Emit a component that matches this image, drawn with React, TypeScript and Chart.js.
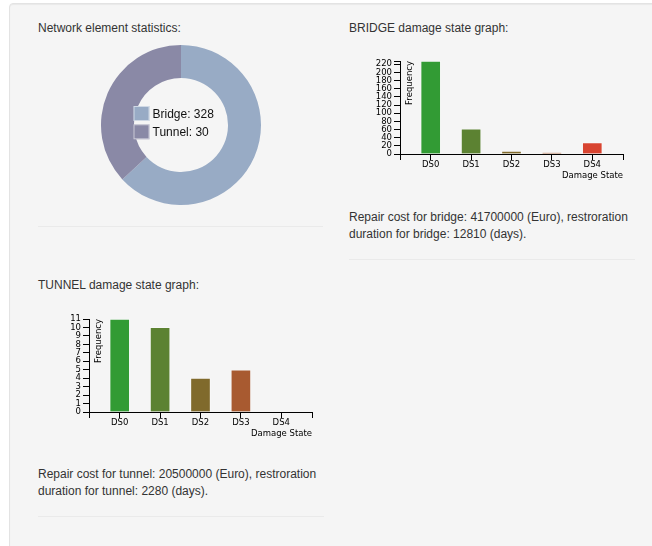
import React, { useEffect, useRef } from 'react';
import { Chart, registerables } from 'chart.js';

Chart.register(...registerables);

// ---- data ----
const elementLabels = ['Bridge', 'Tunnel'];
const elementCounts = [328, 30];
const elementSliceShares = [63.1, 36.9]; // slice sizes as drawn in the donut
const elementColors = ['#98abc5', '#8a89a6'];

const damageStates = ['DS0', 'DS1', 'DS2', 'DS3', 'DS4'];
const damageColors = ['#329b34', '#5c8232', '#806a2c', '#a85a30', '#d84430'];
const bridgeFrequency = [228, 62, 7, 3, 28];
const tunnelFrequency = [11, 10, 4, 5, 0];
const bridgeTicks = [0, 20, 40, 60, 80, 100, 120, 140, 160, 180, 200, 220];
const tunnelTicks = [0, 1, 2, 3, 4, 5, 6, 7, 8, 9, 10, 11];

const AXIS_FONT = '"DejaVu Sans", sans-serif';
const TEXT_FONT = '"Liberation Sans", Arial, Helvetica, sans-serif';

function DonutChart() {
  const ref = useRef<HTMLCanvasElement>(null);
  useEffect(() => {
    const centerLegend = {
      id: 'centerLegend',
      afterDraw(chart: any) {
        const { ctx, chartArea } = chart;
        const cx = (chartArea.left + chartArea.right) / 2;
        const cy = (chartArea.top + chartArea.bottom) / 2;
        ctx.save();
        (chart.data.labels as string[]).forEach((label, i) => {
          const x = cx - 47.5;
          const y = cy - 19 + i * 18.3;
          ctx.fillStyle = elementColors[i];
          ctx.fillRect(x, y, 16, 15);
          ctx.strokeStyle = 'rgba(255,255,255,0.55)';
          ctx.lineWidth = 1;
          ctx.strokeRect(x + 0.5, y + 0.5, 15, 14);
          ctx.fillStyle = '#111';
          ctx.font = `12px ${TEXT_FONT}`;
          ctx.textAlign = 'left';
          ctx.textBaseline = 'alphabetic';
          ctx.fillText(`${label}: ${elementCounts[i]}`, x + 19, y + 11.7);
        });
        ctx.restore();
      },
    };
    const chart = new Chart(ref.current as HTMLCanvasElement, {
      type: 'doughnut',
      data: {
        labels: elementLabels,
        datasets: [
          {
            data: elementSliceShares,
            backgroundColor: elementColors,
            borderWidth: 0,
            hoverOffset: 0,
          },
        ],
      },
      options: {
        animation: false,
        responsive: false,
        events: [],
        cutout: '58.75%',
        layout: { padding: 0 },
        plugins: { legend: { display: false }, tooltip: { enabled: false } },
      } as any,
      plugins: [centerLegend],
    });
    return () => chart.destroy();
  }, []);
  return (
    <canvas
      ref={ref}
      width={160}
      height={160}
      style={{ position: 'absolute', left: 101, top: 45, width: 160, height: 160 }}
    />
  );
}

function DamageChart({ values, ticks, left, top }: { values: number[]; ticks: number[]; left: number; top: number }) {
  const ref = useRef<HTMLCanvasElement>(null);
  useEffect(() => {
    const yMax = Math.max(...values);
    const axisLabels = {
      id: 'axisLabels',
      afterDraw(chart: any) {
        const { ctx, chartArea } = chart;
        ctx.save();
        ctx.fillStyle = '#000';
        ctx.font = `8.5px ${AXIS_FONT}`;
        ctx.textAlign = 'right';
        ctx.textBaseline = 'middle';
        ctx.fillText('Damage State', chartArea.right, chartArea.bottom + 21.5);
        ctx.translate(chartArea.left + 6, chartArea.top);
        ctx.rotate(-Math.PI / 2);
        ctx.textAlign = 'right';
        ctx.textBaseline = 'top';
        ctx.fillText('Frequency', 0, 0);
        ctx.restore();
      },
    };
    const tickFont = { family: AXIS_FONT, size: 8.5 };
    const chart = new Chart(ref.current as HTMLCanvasElement, {
      type: 'bar',
      data: {
        datasets: [
          {
            data: values.map((v, i) => ({ x: i, y: v })),
            backgroundColor: damageColors,
            borderColor: 'rgba(255,255,255,0.35)',
            borderWidth: 1,
            barThickness: 20,
          },
        ],
      },
      options: {
        animation: false,
        responsive: false,
        events: [],
        layout: { padding: { left: 0, top: 21, right: 17, bottom: 0 } },
        plugins: { legend: { display: false }, tooltip: { enabled: false } },
        scales: {
          x: {
            type: 'linear',
            min: -0.76,
            max: damageStates.length - 1 + 0.76,
            offset: false,
            afterFit: (s: any) => {
              s.height = 36;
            },
            afterBuildTicks: (s: any) => {
              s.ticks = [s.min, ...damageStates.map((_, i) => i), s.max].map((v) => ({ value: v }));
            },
            grid: { offset: false, drawOnChartArea: false, drawTicks: true, tickLength: 6, color: '#000', lineWidth: 1 },
            border: { display: true, color: '#000', width: 1 },
            ticks: {
              autoSkip: false,
              maxRotation: 0,
              minRotation: 0,
              padding: 0,
              color: '#000',
              font: tickFont,
              callback: (v: any) => (Number.isInteger(v) && damageStates[v] !== undefined ? damageStates[v] : ''),
            },
          },
          y: {
            type: 'linear',
            min: 0,
            max: yMax,
            afterFit: (s: any) => {
              s.width = 60;
            },
            afterBuildTicks: (s: any) => {
              const vals = ticks.includes(yMax) ? ticks : [...ticks, yMax];
              s.ticks = vals.map((v) => ({ value: v }));
            },
            grid: { offset: false, drawOnChartArea: false, drawTicks: true, tickLength: 6, color: '#000', lineWidth: 1 },
            border: { display: true, color: '#000', width: 1 },
            ticks: {
              autoSkip: false,
              padding: 2,
              color: '#000',
              font: tickFont,
              callback: (v: any) => (ticks.includes(v) ? String(v) : ''),
            },
          },
        },
      } as any,
      plugins: [axisLabels],
    });
    return () => chart.destroy();
  }, []);
  return (
    <canvas
      ref={ref}
      width={300}
      height={150}
      style={{ position: 'absolute', left, top, width: 300, height: 150 }}
    />
  );
}

const textStyle: React.CSSProperties = {
  position: 'absolute',
  fontFamily: TEXT_FONT,
  fontSize: 12,
  lineHeight: '17px',
  color: '#333',
  whiteSpace: 'nowrap',
  margin: 0,
};

const dividerStyle: React.CSSProperties = {
  position: 'absolute',
  height: 0,
  borderTop: '1px solid #eaeaea',
};

export default function App() {
  return (
    <div style={{ position: 'absolute', left: 0, top: 0, width: 652, height: 546, overflow: 'hidden', background: '#fff' }}>
      <div
        style={{
          position: 'absolute',
          left: 9,
          top: 3,
          width: 720,
          height: 620,
          background: '#f5f5f5',
          border: '1px solid #e3e3e3',
          borderRadius: 4,
          boxShadow: 'inset 0 1px 1px rgba(0,0,0,0.05)',
          boxSizing: 'border-box',
        }}
      />
      <div style={{ ...textStyle, left: 38, top: 20 }}>Network element statistics:</div>
      <DonutChart />
      <div style={{ ...dividerStyle, left: 38, top: 226, width: 285 }} />

      <div style={{ ...textStyle, left: 349, top: 20 }}>BRIDGE damage state graph:</div>
      <DamageChart values={bridgeFrequency} ticks={bridgeTicks} left={340} top={40} />
      <div style={{ ...textStyle, left: 349, top: 208.5 }}>
        Repair cost for bridge: 41700000 (Euro), restroration
        <br />
        duration for bridge: 12810 (days).
      </div>
      <div style={{ ...dividerStyle, left: 349, top: 259, width: 286 }} />

      <div style={{ ...textStyle, left: 38, top: 277 }}>TUNNEL damage state graph:</div>
      <DamageChart values={tunnelFrequency} ticks={tunnelTicks} left={29} top={298} />
      <div style={{ ...textStyle, left: 38, top: 466.3 }}>
        Repair cost for tunnel: 20500000 (Euro), restroration
        <br />
        duration for tunnel: 2280 (days).
      </div>
      <div style={{ ...dividerStyle, left: 38, top: 516, width: 286 }} />
    </div>
  );
}
